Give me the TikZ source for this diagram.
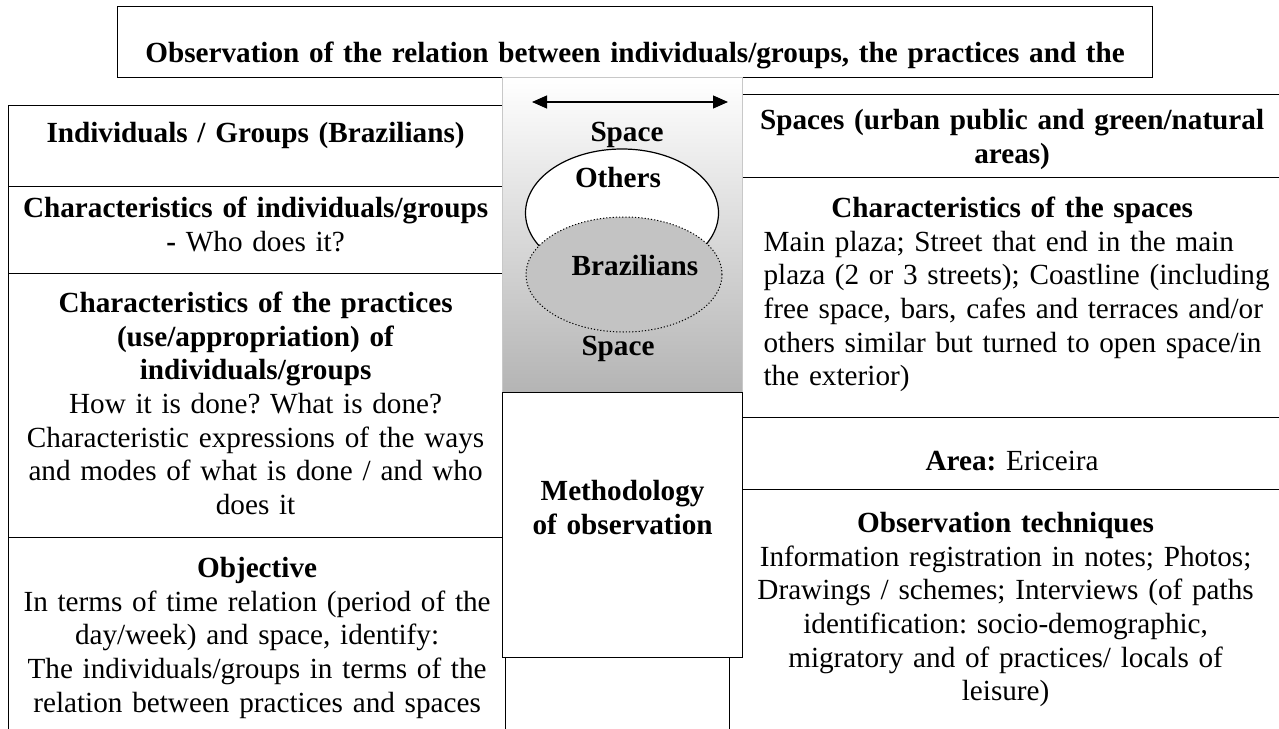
\documentclass[tikz,border=0pt]{standalone}
\usepackage{fontspec}
\setmainfont{Liberation Serif}[WordSpace=0.75]
\usepackage{tikz}
\usetikzlibrary{arrows.meta,positioning,shapes.geometric}
\newcommand{\cellfont}{\fontsize{29.2}{33.6}\selectfont\frenchspacing}
\tikzset {
    cell/.style={draw, line width=1.2pt, anchor=north west, inner xsep=12pt,
        inner ysep=0pt, align=center, font=\cellfont},
    rcell/.style={cell, inner xsep=6pt},
    lbl/.style={font=\cellfont\bfseries, anchor=base, inner sep=0pt},
}
\definecolor{shadebot}{HTML}{B4B4B4}
\definecolor{brazfill}{HTML}{C3C3C3}
\definecolor{edgegray}{HTML}{C8C8C8}

\begin{document}
\begin{tikzpicture}[
        x=1pt, y=-1pt,
        gradbox/.style={draw=edgegray, line width=1.2pt, top color=white,
            bottom color=shadebot, anchor=north west, minimum width=240pt,
            minimum height=315pt, inner sep=0pt},
        ring/.style={ellipse, draw, line width=1.2pt, inner sep=0pt},
        >={Triangle[length=15pt, width=13pt]},
    ]
    \useasboundingbox (0,0) rectangle (1279,728);

    \node[cell, text width=1011pt, text height=56pt, text depth=15pt] (title) at (117,6)
        {\textbf{Observation of the relation between individuals/groups, the practices and the}};

    % left column
    \node[cell, text width=470pt, text height=37pt, text depth=44pt] (indiv) at (8,105)
        {\textbf{Individuals / Groups (Brazilians)}};
    \node[cell, text width=470pt, text height=31pt, text depth=56pt] (indchar) at (8,186)
        {\textbf{Characteristics of individuals/groups}\\\textbf{-} Who does it?};
    \node[cell, text width=470pt, text height=39pt, text depth=225pt] (practice) at (8,273)
        {\textbf{Characteristics of the practices}\\\textbf{(use/appropriation) of}\\
         \textbf{individuals/groups}\\How it is done? What is done?\\
         Characteristic expressions of the ways\\and modes of what is done / and who\\does it};
    \node[cell, text width=473pt, text height=40pt, text depth=153pt] (objective) at (8,537)
        {\textbf{Objective}\\In terms of time relation (period of the\\day/week) and space, identify:\\
         The individuals/groups in terms of the\\relation between practices and spaces};

    % right column
    \node[rcell, text width=527pt, text height=35pt, text depth=48pt] (spaces) at (742,94)
        {\textbf{Spaces (urban public and green/natural}\\\textbf{areas)}};
    \node[rcell, align=left, text width=527pt, text height=40pt, text depth=200pt] (spchar) at (742,177)
        {\leftskip=15pt\hspace*{-15pt}\makebox[\linewidth]{\textbf{Characteristics of the spaces}}\\
         Main plaza; Street that end in the main\\plaza (2 or 3 streets); Coastline (including\\
         free space, bars, cafes and terraces and/or\\others similar but turned to open space/in\\
         the exterior)\par};
    \node[rcell, text width=527pt, text height=53pt, text depth=19pt] (area) at (742,417)
        {\textbf{Area:} Ericeira};
    \node[rcell, text width=540pt, text height=43pt, text depth=198pt] (techniq) at (729,489)
        {\textbf{Observation techniques}\\Information registration in notes; Photos;\\
         Drawings / schemes; Interviews (of paths\\identification: socio-demographic,\\
         migratory and of practices/ locals of\\leisure)};

    % middle column
    \node[gradbox] (spacebox) at (502,77) {};
    \node[cell, fill=white, text width=216pt, text height=108pt, text depth=157pt] (method) at (502,392)
        {\textbf{Methodology}\\\textbf{of observation}};

    \node[ring, fill=white, minimum width=193pt, minimum height=128pt] (others) at (622,213) {};
    \node[ring, dotted, line width=1pt, fill=brazfill, minimum width=196pt,
        minimum height=115pt] (brazil) at (624,274.5) {};

    \node[lbl] (sptop) at (627,141) {Space};
    \node[lbl] (othlbl) at (618,187) {Others};
    \node[lbl] (brzlbl) at (635,275) {Brazilians};
    \node[lbl] (spbot) at (618,355) {Space};

    \coordinate (arrl) at (532,102);
    \coordinate (arrr) at (728,102);
    \draw[<->, line width=1.2pt] (arrl) -- (arrr);

\end{tikzpicture}
\end{document}
